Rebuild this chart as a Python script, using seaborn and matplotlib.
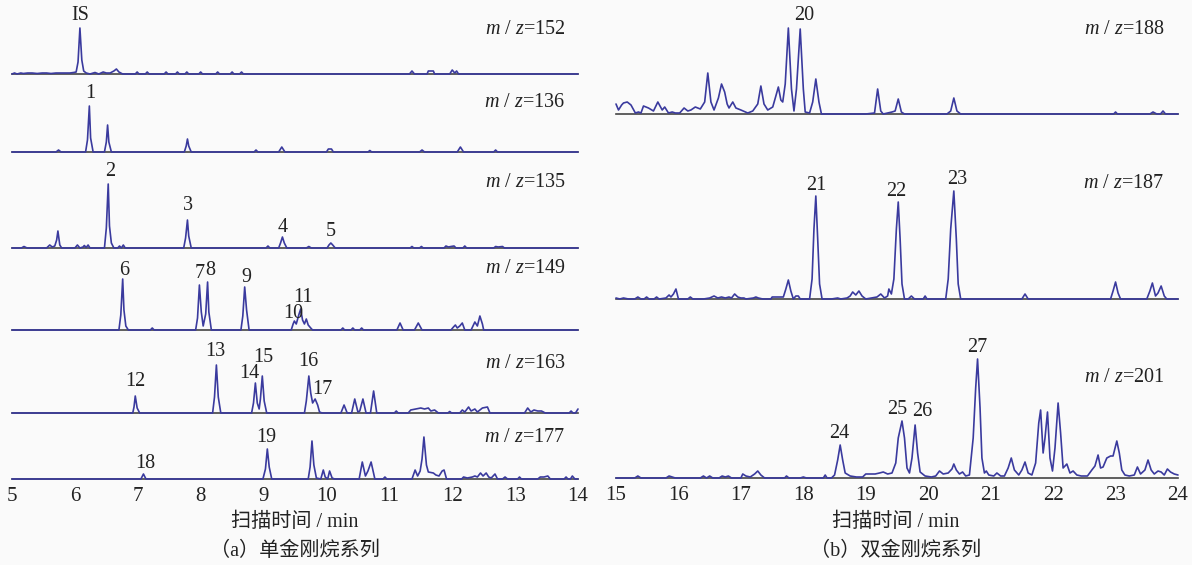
import pandas as pd
import matplotlib.pyplot as plt
import seaborn as sns

# chromatogram traces: (retention time / min, relative intensity)
mz152 = [(5.00, 0), (5.04, 1), (5.08, 0), (5.14, 1), (5.18, 0.5), (5.25, 1), (5.32, 1), (5.40, 0.5),
         (5.48, 1), (5.55, 1), (5.62, 0.5), (5.70, 1), (5.78, 1), (5.86, 1), (5.92, 1), (5.98, 1.5),
         (6.02, 2), (6.05, 12), (6.08, 46), (6.11, 14), (6.14, 3), (6.18, 1), (6.24, 0), (6.32, 1.5),
         (6.38, 0), (6.45, 2), (6.50, 1), (6.56, 1), (6.62, 3), (6.66, 5), (6.70, 2), (6.76, 0),
         (6.96, 0), (6.99, 2), (7.02, 0), (7.12, 0), (7.15, 2), (7.18, 0), (7.42, 0), (7.45, 2),
         (7.48, 0), (7.60, 0), (7.63, 2), (7.66, 0), (7.75, 0), (7.78, 2), (7.81, 0), (7.97, 0),
         (8.00, 2), (8.03, 0), (8.24, 0), (8.27, 2), (8.30, 0), (8.47, 0), (8.50, 2), (8.53, 0),
         (8.62, 0), (8.65, 2), (8.68, 0), (11.32, 0), (11.36, 3), (11.40, 0), (11.60, 0), (11.62, 3),
         (11.70, 3), (11.72, 0), (11.96, 0), (12.00, 4), (12.04, 1), (12.07, 3), (12.10, 0), (14.00, 0)]

mz136 = [(5.00, 0), (5.70, 0), (5.74, 2), (5.78, 0), (6.17, 0), (6.20, 12), (6.23, 46), (6.25, 14),
         (6.29, 0), (6.47, 0), (6.50, 10), (6.52, 27), (6.54, 10), (6.58, 0), (7.74, 0), (7.77, 6),
         (7.79, 13), (7.81, 6), (7.85, 0), (8.85, 0), (8.88, 2), (8.91, 0), (9.24, 0), (9.29, 5),
         (9.34, 0), (10.00, 0), (10.03, 3), (10.08, 3), (10.11, 0), (10.66, 0), (10.69, 1.5),
         (10.72, 0), (11.48, 0), (11.52, 2), (11.56, 0), (12.08, 0), (12.13, 5), (12.18, 0),
         (12.66, 0), (12.69, 2), (12.72, 0), (14.00, 0)]

mz135 = [(5.00, 0), (5.15, 0), (5.19, 1.5), (5.24, 0), (5.55, 0), (5.60, 3), (5.64, 1), (5.68, 2),
         (5.71, 8), (5.73, 17), (5.76, 3), (5.79, 0), (6.00, 0), (6.04, 3), (6.08, 0), (6.13, 1),
         (6.15, 2.5), (6.18, 0.5), (6.21, 3), (6.24, 0), (6.47, 0), (6.50, 20), (6.53, 64),
         (6.55, 22), (6.58, 5), (6.62, 0), (6.68, 0), (6.71, 2), (6.74, 0), (6.77, 3), (6.80, 0),
         (7.73, 0), (7.76, 10), (7.79, 28), (7.81, 12), (7.85, 0), (9.04, 0), (9.07, 2), (9.10, 0),
         (9.24, 0), (9.27, 5), (9.30, 11), (9.33, 5), (9.37, 0), (9.68, 0), (9.72, 1.5), (9.76, 0),
         (10.01, 0), (10.04, 3), (10.07, 5), (10.10, 3), (10.14, 0), (11.33, 0), (11.36, 1.5),
         (11.39, 0), (11.48, 0), (11.51, 1.5), (11.54, 0), (11.87, 0), (11.90, 2), (11.94, 1),
         (11.98, 1.5), (12.03, 2), (12.06, 0), (12.17, 0), (12.20, 2), (12.23, 0), (12.66, 0),
         (12.69, 1.5), (12.73, 1), (12.80, 1.5), (12.83, 0), (14.00, 0)]

mz149 = [(5.00, 0), (6.70, 0), (6.73, 15), (6.76, 51), (6.78, 20), (6.81, 4), (6.85, 0), (7.20, 0),
         (7.23, 2), (7.26, 0), (7.92, 0), (7.95, 12), (7.98, 45), (8.01, 18), (8.04, 4), (8.08, 16),
         (8.11, 48), (8.13, 18), (8.17, 0), (8.64, 0), (8.67, 14), (8.70, 43), (8.73, 20), (8.77, 0),
         (9.44, 0), (9.47, 6), (9.49, 9), (9.52, 6), (9.56, 15), (9.59, 21), (9.62, 10), (9.65, 6),
         (9.68, 11), (9.71, 5), (9.75, 2), (9.78, 0), (10.23, 0), (10.26, 2), (10.29, 0), (10.39, 0),
         (10.42, 2), (10.45, 0), (10.53, 0), (10.56, 2), (10.59, 0), (11.12, 0), (11.17, 7),
         (11.22, 0), (11.40, 0), (11.46, 7), (11.52, 0), (11.98, 0), (12.02, 3), (12.05, 5),
         (12.08, 2), (12.12, 4), (12.16, 7), (12.20, 0), (12.30, 0), (12.36, 8), (12.40, 4),
         (12.44, 14), (12.48, 6), (12.50, 0), (14.00, 0)]

mz163 = [(5.00, 0), (6.92, 0), (6.94, 6), (6.96, 17), (6.99, 5), (7.03, 0), (8.19, 0), (8.22, 16),
         (8.25, 48), (8.28, 16), (8.32, 0), (8.81, 0), (8.84, 10), (8.87, 30), (8.90, 10), (8.93, 4),
         (8.95, 14), (8.98, 37), (9.01, 12), (9.05, 0), (9.65, 0), (9.68, 12), (9.72, 37), (9.75, 20),
         (9.78, 10), (9.82, 14), (9.86, 8), (9.89, 1), (9.93, 0), (10.23, 0), (10.28, 8), (10.33, 0),
         (10.40, 0), (10.45, 14), (10.50, 1), (10.53, 2), (10.58, 14), (10.63, 0), (10.70, 0),
         (10.75, 22), (10.80, 0), (11.08, 0), (11.11, 2), (11.14, 0), (11.30, 0), (11.34, 3),
         (11.42, 4), (11.50, 5), (11.56, 4), (11.62, 5), (11.66, 2), (11.72, 3), (11.78, 0),
         (11.93, 0), (11.96, 1.5), (11.99, 0), (12.12, 0), (12.16, 3), (12.20, 1), (12.26, 6),
         (12.30, 2), (12.36, 4), (12.40, 1), (12.48, 5), (12.56, 6), (12.60, 0), (13.15, 0),
         (13.20, 5), (13.25, 1), (13.30, 3), (13.36, 2), (13.42, 2), (13.48, 0), (13.86, 0),
         (13.89, 2), (13.92, 0), (13.96, 0), (14.00, 4)]

mz177 = [(5.00, 0), (7.05, 0), (7.09, 5), (7.13, 0), (8.99, 0), (9.03, 10), (9.06, 30), (9.09, 12),
         (9.13, 0), (9.71, 0), (9.74, 12), (9.77, 38), (9.80, 14), (9.84, 1), (9.91, 0), (9.95, 9),
         (9.98, 2), (10.02, 0), (10.05, 8), (10.09, 1), (10.13, 0), (10.52, 0), (10.57, 17),
         (10.62, 3), (10.66, 8), (10.71, 17), (10.77, 0), (10.90, 0), (10.93, 2), (10.96, 0),
         (11.36, 0), (11.41, 9), (11.45, 3), (11.49, 8), (11.52, 20), (11.55, 42), (11.59, 14),
         (11.62, 7), (11.70, 6), (11.74, 4), (11.79, 3), (11.84, 8), (11.87, 9), (11.91, 0),
         (12.15, 0), (12.18, 2), (12.24, 1), (12.32, 2), (12.36, 3), (12.40, 2), (12.45, 6),
         (12.49, 3), (12.54, 6), (12.58, 2), (12.62, 1), (12.68, 5), (12.72, 0), (12.80, 0),
         (12.84, 2), (12.88, 0), (13.04, 0), (13.07, 2), (13.10, 0), (13.36, 0), (13.40, 2),
         (13.46, 2), (13.52, 3), (13.56, 0), (13.78, 0), (13.81, 2), (13.84, 0), (13.88, 0),
         (13.91, 3), (13.95, 0), (14.00, 0)]

mz188 = [(15.00, 10), (15.04, 4), (15.09, 9), (15.12, 11), (15.18, 12), (15.24, 9), (15.31, 1),
         (15.36, 2), (15.40, 1), (15.44, 8), (15.52, 6), (15.60, 3), (15.67, 12), (15.74, 4),
         (15.78, 7), (15.84, 1), (15.90, 2), (15.95, 1), (16.02, 1), (16.09, 6), (16.15, 3),
         (16.20, 4), (16.27, 7), (16.35, 5), (16.42, 12), (16.47, 41), (16.52, 12), (16.57, 4),
         (16.64, 16), (16.69, 30), (16.74, 22), (16.78, 10), (16.81, 6), (16.87, 12), (16.92, 6),
         (17.00, 4), (17.11, 1), (17.19, 3), (17.27, 10), (17.32, 28), (17.37, 10), (17.43, 4),
         (17.51, 7), (17.56, 18), (17.60, 27), (17.64, 14), (17.67, 12), (17.71, 30), (17.76, 86),
         (17.81, 25), (17.85, 3), (17.89, 25), (17.95, 85), (18.00, 25), (18.03, 2), (18.10, 1),
         (18.15, 12), (18.20, 35), (18.25, 12), (18.29, 0), (19.00, 0), (19.14, 1), (19.19, 25),
         (19.24, 3), (19.28, 0), (19.42, 2), (19.47, 3), (19.52, 15), (19.57, 2), (19.62, 0),
         (20.30, 0), (20.36, 3), (20.41, 16), (20.46, 3), (20.52, 0), (22.97, 0), (23.00, 2),
         (23.03, 0), (23.55, 0), (23.60, 2), (23.66, 0), (23.72, 0), (23.76, 3), (23.80, 0),
         (24.00, 0)]

mz187 = [(15.00, 1), (15.06, 0), (15.12, 1), (15.20, 0), (15.30, 0), (15.35, 2), (15.40, 0),
         (15.45, 0), (15.49, 2), (15.53, 0), (15.61, 0), (15.65, 2), (15.69, 0), (15.80, 1),
         (15.85, 4), (15.88, 2), (15.92, 5), (15.96, 10), (16.00, 0), (16.15, 0), (16.19, 2),
         (16.23, 0), (16.40, 0), (16.50, 1), (16.57, 3), (16.63, 1), (16.69, 2), (16.75, 1),
         (16.81, 2), (16.85, 1), (16.90, 5), (16.95, 2), (17.00, 1), (17.05, 1), (17.08, 0),
         (17.20, 1), (17.24, 2), (17.28, 1), (17.35, 0), (17.48, 0), (17.50, 2), (17.68, 2),
         (17.72, 10), (17.76, 19), (17.80, 8), (17.84, 0), (17.88, 3), (17.92, 3), (17.95, 0),
         (18.10, 0), (18.14, 20), (18.17, 70), (18.20, 103), (18.23, 60), (18.26, 15), (18.30, 0),
         (18.45, 0), (18.55, 1), (18.60, 0), (18.70, 1), (18.75, 3), (18.79, 7), (18.84, 4),
         (18.89, 8), (18.94, 3), (19.00, 0), (19.18, 2), (19.24, 5), (19.30, 1), (19.35, 3),
         (19.37, 10), (19.41, 5), (19.45, 20), (19.49, 70), (19.52, 97), (19.55, 60), (19.58, 15),
         (19.62, 0), (19.68, 0), (19.73, 3), (19.78, 0), (19.92, 0), (19.95, 3), (19.98, 0),
         (20.28, 0), (20.32, 20), (20.36, 70), (20.41, 108), (20.45, 60), (20.48, 15), (20.52, 0),
         (21.50, 0), (21.55, 5), (21.60, 0), (22.92, 0), (22.96, 8), (23.00, 17), (23.04, 6),
         (23.08, 0), (23.50, 0), (23.55, 8), (23.59, 16), (23.64, 3), (23.68, 6), (23.73, 13),
         (23.78, 3), (23.82, 0), (24.00, 0)]

mz201 = [(15.00, 0), (15.30, 0), (15.35, 2), (15.40, 0), (15.80, 0), (15.85, 2), (15.90, 1),
         (15.95, 0), (16.35, 0), (16.40, 2), (16.45, 0), (16.50, 2), (16.55, 0), (16.65, 0),
         (16.70, 2), (16.75, 1), (16.80, 2), (16.85, 0), (17.00, 0), (17.03, 4), (17.08, 2),
         (17.15, 1), (17.22, 4), (17.27, 7), (17.32, 3), (17.38, 0), (17.70, 0), (17.73, 2),
         (17.77, 0), (17.95, 0), (18.00, 1), (18.05, 0), (18.32, 0), (18.35, 3), (18.38, 0),
         (18.45, 0), (18.50, 3), (18.55, 18), (18.59, 33), (18.63, 18), (18.67, 5), (18.75, 2),
         (18.85, 1), (18.95, 1), (19.00, 4), (19.15, 4), (19.22, 5), (19.28, 6), (19.35, 4),
         (19.42, 5), (19.48, 15), (19.52, 40), (19.58, 57), (19.62, 40), (19.66, 10), (19.70, 5),
         (19.74, 20), (19.79, 53), (19.83, 25), (19.87, 6), (19.95, 2), (20.05, 1), (20.12, 2),
         (20.18, 7), (20.24, 4), (20.32, 5), (20.38, 9), (20.41, 14), (20.45, 8), (20.50, 4),
         (20.55, 6), (20.60, 2), (20.66, 3), (20.72, 40), (20.76, 90), (20.79, 119), (20.83, 70),
         (20.86, 20), (20.90, 5), (20.93, 7), (20.97, 3), (21.05, 2), (21.10, 5), (21.16, 2),
         (21.22, 2), (21.28, 10), (21.33, 20), (21.38, 8), (21.45, 3), (21.50, 8), (21.55, 16),
         (21.60, 5), (21.66, 3), (21.72, 15), (21.77, 55), (21.80, 68), (21.84, 25), (21.87, 40),
         (21.91, 66), (21.95, 20), (21.99, 7), (22.03, 30), (22.08, 75), (22.12, 45), (22.16, 10),
         (22.22, 14), (22.27, 5), (22.32, 7), (22.38, 3), (22.45, 2), (22.55, 2), (22.62, 8),
         (22.67, 12), (22.72, 23), (22.76, 10), (22.80, 11), (22.86, 20), (22.92, 22), (22.96, 22),
         (23.02, 37), (23.06, 25), (23.10, 8), (23.15, 3), (23.22, 2), (23.30, 3), (23.35, 11),
         (23.40, 4), (23.47, 8), (23.52, 18), (23.57, 8), (23.62, 4), (23.68, 7), (23.73, 6),
         (23.78, 3), (23.83, 9), (23.88, 6), (23.94, 4), (24.00, 3)]

# peak labels: (text, time, height of label centre)
lab152 = [("IS", 6.08, 59)]
lab136 = [("1", 6.24, 58)]
lab135 = [("2", 6.56, 76), ("3", 7.80, 42), ("4", 9.31, 20), ("5", 10.07, 16)]
lab149 = [("6", 6.78, 60), ("7", 7.99, 57), ("8", 8.16, 60), ("9", 8.72, 53),
          ("10", 9.48, 17), ("11", 9.62, 33)]
lab163 = [("12", 6.96, 31), ("13", 8.24, 61), ("14", 8.77, 39), ("15", 9.00, 55),
          ("16", 9.71, 51), ("17", 9.94, 24)]
lab177 = [("18", 7.12, 16), ("19", 9.05, 42)]
lab188 = [("20", 18.02, 98)]
lab187 = [("21", 18.20, 114), ("22", 19.49, 108), ("23", 20.47, 120)]
lab201 = [("24", 18.57, 45), ("25", 19.50, 68), ("26", 19.90, 66), ("27", 20.79, 130)]

# (m/z, trace, labels, baseline px from top, m/z label height)
left_panel = [("152", mz152, lab152, 74, 44), ("136", mz136, lab136, 152, 49),
              ("135", mz135, lab135, 248, 65), ("149", mz149, lab149, 330, 62),
              ("163", mz163, lab163, 413, 50), ("177", mz177, lab177, 479, 41)]
right_panel = [("188", mz188, lab188, 114, 84), ("187", mz187, lab187, 299, 116),
               ("201", mz201, lab201, 478, 101)]

W, H = 1192, 565
LINE = '#3a3a9e'
INK = '#222222'
SERIF = ['Liberation Serif', 'Noto Sans CJK SC']

sns.set_style('white')
plt.rcParams['font.family'] = SERIF
plt.rcParams['mathtext.fontset'] = 'custom'
plt.rcParams['mathtext.it'] = 'Liberation Serif:italic'
plt.rcParams['mathtext.rm'] = 'Liberation Serif'

fig = plt.figure(figsize=(W / 100, H / 100), dpi=100)
fig.patch.set_facecolor('#fafafa')


def draw_panel(traces, x0, x1, tmin, tmax, mz_t):
    for i, (mz, trace, labels, base, mz_h) in enumerate(traces):
        ax = fig.add_axes([x0 / W, 1 - base / H, (x1 - x0) / W, 60 / H])
        ax.patch.set_alpha(0)
        df = pd.DataFrame(trace, columns=['t', 'i'])
        sns.lineplot(data=df, x='t', y='i', ax=ax, color=LINE, lw=1.2,
                     estimator=None, sort=False, clip_on=False, zorder=3)
        ax.set_xlim(tmin, tmax)
        ax.set_ylim(0, 60)
        ax.set_xlabel('')
        ax.set_ylabel('')
        ax.set_yticks([])
        for s in ['left', 'right', 'top']:
            ax.spines[s].set_visible(False)
        ax.spines['bottom'].set_color('#444444')
        ax.spines['bottom'].set_linewidth(1.2)
        ax.set_xticks(range(tmin, tmax + 1))
        ax.tick_params(axis='x', direction='in', length=4, width=1.1,
                       color='#444444', labelsize=15, pad=6, labelcolor=INK)
        if i < len(traces) - 1:
            ax.set_xticklabels([])
        for txt, t, h in labels:
            ax.text(t, h, txt, ha='center', va='center', fontsize=14.5, color=INK)
        ax.text(mz_t, mz_h, r'$m$ / $z$=' + mz, ha='right', va='center',
                fontsize=14.5, color=INK)


draw_panel(left_panel, 12, 578, 5, 14, 13.80)
draw_panel(right_panel, 616, 1178, 15, 24, 23.78)

for xc, cap in [(295, '（a）单金刚烷系列'), (896, '（b）双金刚烷系列')]:
    fig.text(xc / W, 1 - 522 / H, '扫描时间 / min', ha='center', va='center',
             fontsize=14.5, color=INK)
    fig.text(xc / W, 1 - 551 / H, cap, ha='center', va='center',
             fontsize=14.5, color=INK)

plt.savefig('out.png', dpi=100, facecolor=fig.get_facecolor())
